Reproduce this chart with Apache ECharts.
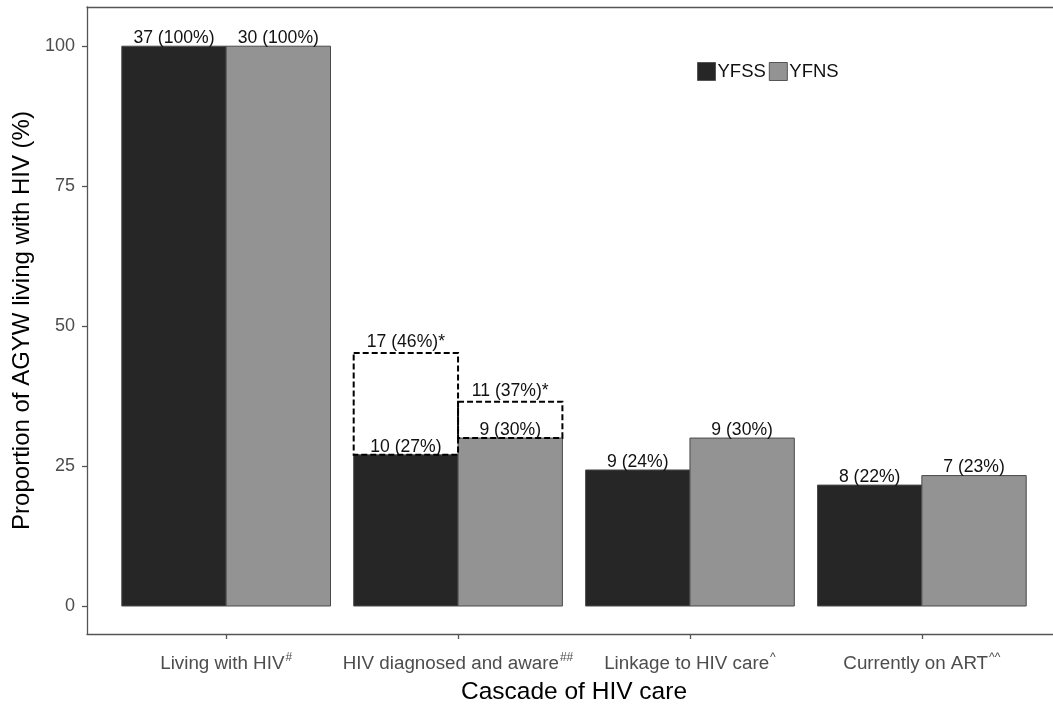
<!DOCTYPE html>
<html>
<head>
<meta charset="utf-8">
<script src="https://cdn.jsdelivr.net/npm/echarts@6/dist/echarts.min.js"></script>
<style>
html,body{margin:0;padding:0;background:#fff;}
#chart{width:1053px;height:704px;}
</style>
</head>
<body>
<div id="chart"></div>
<script>
// ---- data ----
const categories = ['Living with HIV', 'HIV diagnosed and aware', 'Linkage to HIV care', 'Currently on ART'];
const categorySup = ['#', '##', '^', '^^'];
const seriesNames = ['YFSS', 'YFNS'];
const yfssValues = [100, 27.0, 24.3, 21.6];
const yfnsValues = [100, 30.0, 30.0, 23.3];
const yfssLabels = ['37 (100%)', '10 (27%)', '9 (24%)', '8 (22%)'];
const yfnsLabels = ['30 (100%)', '9 (30%)', '9 (30%)', '7 (23%)'];
// dashed boxes (diagnosed incl. self-reported), only in category 2
const yfssDashed = [null, 45.2, null, null];
const yfnsDashed = [null, 36.5, null, null];
const yfssDashedLabels = [null, '17 (46%)*', null, null];
const yfnsDashedLabels = [null, '11 (37%)*', null, null];
const yTicks = [0, 25, 50, 75, 100];
const xTicks = [1, 2, 3, 4];

const FONT = '"Liberation Sans", Arial, sans-serif';
const colors = ['#262626', '#939393'];
const LINE = { color: '#555', width: 1.3 };

function makeBarSeries(name, values, labels, offsetIdx, color) {
  return {
    name: name,
    type: 'custom',
    xAxisIndex: 0, yAxisIndex: 0,
    itemStyle: { color: color, borderColor: '#555', borderWidth: 1 },
    data: values.map((v, i) => [i + 1, v]),
    encode: { x: 0, y: 1 },
    renderItem: function (params, api) {
      const x = api.value(0), v = api.value(1);
      const left = x - 0.45 + offsetIdx * 0.45;
      const p0 = api.coord([left, 0]);
      const p1 = api.coord([left + 0.45, v]);
      const lbl = labels[params.dataIndex];
      return {
        type: 'group',
        children: [
          {
            type: 'rect',
            shape: { x: p0[0], y: p1[1], width: p1[0] - p0[0], height: p0[1] - p1[1] },
            style: { fill: color, stroke: '#4a4a4a', lineWidth: 1 }
          },
          {
            type: 'text',
            z2: 10,
            style: {
              text: lbl, x: (p0[0] + p1[0]) / 2, y: p1[1] + 1,
              fill: '#111', fontSize: 17.6, fontFamily: FONT,
              align: 'center', verticalAlign: 'bottom',
              textAlign: 'center', textVerticalAlign: 'bottom'
            }
          }
        ]
      };
    }
  };
}

function makeDashedSeries(name, base, dashed, labels, offsetIdx) {
  const data = [];
  dashed.forEach((d, i) => { if (d != null) data.push([i + 1, d, base[i], i]); });
  return {
    name: name + '-dashed',
    type: 'custom',
    xAxisIndex: 0, yAxisIndex: 0,
    silent: true,
    z: 5,
    data: data,
    encode: { x: 0, y: 1 },
    renderItem: function (params, api) {
      const x = api.value(0), top = api.value(1), bottom = api.value(2), idx = api.value(3);
      const left = x - 0.45 + offsetIdx * 0.45;
      const p0 = api.coord([left, bottom]);
      const p1 = api.coord([left + 0.45, top]);
      return {
        type: 'group',
        children: [
          {
            type: 'rect',
            shape: { x: p0[0], y: p1[1], width: p1[0] - p0[0], height: p0[1] - p1[1] },
            style: { fill: null, stroke: '#000', lineWidth: 2, lineDash: [6, 3] }
          },
          {
            type: 'text',
            style: {
              text: labels[idx], x: (p0[0] + p1[0]) / 2, y: p1[1] - 2,
              fill: '#111', fontSize: 17.6, fontFamily: FONT,
              align: 'center', verticalAlign: 'bottom',
              textAlign: 'center', textVerticalAlign: 'bottom'
            }
          }
        ]
      };
    }
  };
}

const chart = echarts.init(document.getElementById('chart'), null, { renderer: 'canvas' });
chart.setOption({
  animation: false,
  backgroundColor: '#fff',
  grid: {
    left: 87, top: 7, right: -8, bottom: 70,
    outerBoundsMode: 'none', containLabel: false,
    show: false
  },
  legend: {
    left: 692, top: 57,
    itemWidth: 18, itemHeight: 18, itemGap: 3,
    icon: 'rect',
    data: seriesNames.map((n, i) => ({ name: n, itemStyle: { color: colors[i], borderColor: '#555', borderWidth: 1 } })),
    textStyle: { fontSize: 18.5, fontFamily: FONT, color: '#111', padding: [0, 0, 0, -3] }
  },
  xAxis: [{
    type: 'value', min: 0.4, max: 4.6, position: 'bottom',
    name: 'Cascade of HIV care', nameLocation: 'middle', nameGap: 46,
    nameTextStyle: { fontSize: 24.5, fontFamily: FONT, color: '#000' },
    axisLine: { show: true, onZero: false, lineStyle: LINE },
    splitLine: { show: false },
    axisTick: { show: true, length: 5, customValues: xTicks, lineStyle: LINE },
    axisLabel: {
      customValues: xTicks, margin: 17,
      formatter: function (v) {
        const i = Math.round(v) - 1;
        return '{n|' + categories[i] + '}{s|' + categorySup[i] + '}';
      },
      rich: {
        n: { fontSize: 18.8, fontFamily: FONT, color: '#4d4d4d', lineHeight: 22, verticalAlign: 'bottom' },
        s: { fontSize: 12, fontFamily: FONT, color: '#4d4d4d', lineHeight: 22, verticalAlign: 'bottom', padding: [0, 0, 9, 1] }
      }
    }
  }, {
    type: 'value', min: 0.4, max: 4.6, position: 'top',
    axisLine: { show: true, onZero: false, lineStyle: LINE },
    axisTick: { show: false }, axisLabel: { show: false }, splitLine: { show: false }
  }],
  yAxis: {
    type: 'value', min: -5, max: 107,
    name: 'Proportion of AGYW living with HIV (%)', nameLocation: 'middle', nameGap: 47,
    nameTextStyle: { fontSize: 24, fontFamily: FONT, color: '#000' },
    axisLine: { show: true, onZero: false, lineStyle: LINE },
    splitLine: { show: false },
    axisTick: { show: true, length: 5, customValues: yTicks, lineStyle: LINE },
    axisLabel: { customValues: yTicks, margin: 12, fontSize: 18, fontFamily: FONT, color: '#4d4d4d' }
  },
  series: [
    makeBarSeries(seriesNames[0], yfssValues, yfssLabels, 0, colors[0]),
    makeBarSeries(seriesNames[1], yfnsValues, yfnsLabels, 1, colors[1]),
    makeDashedSeries(seriesNames[0], yfssValues, yfssDashed, yfssDashedLabels, 0),
    makeDashedSeries(seriesNames[1], yfnsValues, yfnsDashed, yfnsDashedLabels, 1)
  ]
});
</script>
</body>
</html>
